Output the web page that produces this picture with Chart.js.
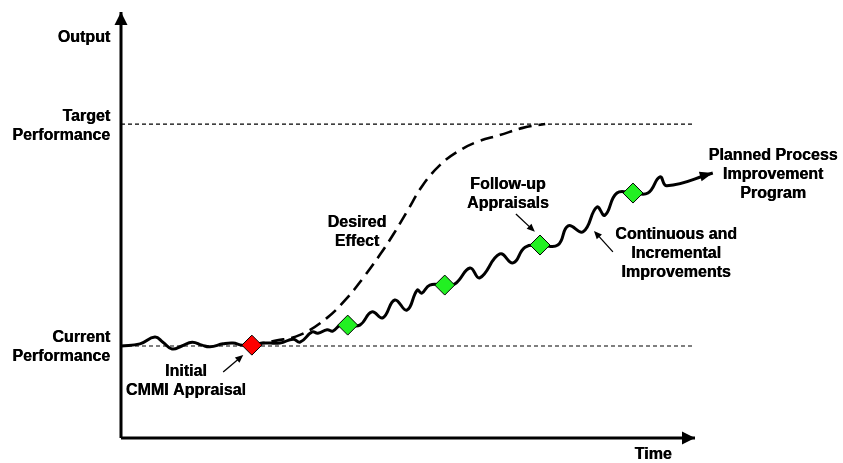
<!DOCTYPE html>
<html><head><meta charset="utf-8">
<script src="https://cdn.jsdelivr.net/npm/chart.js@4.4.1/dist/chart.umd.min.js"></script>
<style>html,body{margin:0;padding:0;background:#fff;overflow:hidden}canvas{display:block}</style>
</head><body>
<canvas id="c" width="843" height="463"></canvas>
<script>
// ---- Data (time 0-100, output 0-100) ----
const currentPerformance = 21.6;
const targetPerformance = 73.7;
const referenceTime = [0, 99.7];

const axisTime = [0, 100];
const axisOutput = [0, 100];

const actualTime = [0, 3.3, 5.9, 7.3, 8.9, 10.6, 12.4, 14.1, 15.5, 17.8, 19.5, 21.1, 22.8, 24.6, 27.7, 30.0, 31.2, 33.3, 34.3, 35.9, 36.9, 38.2, 39.6, 41.6, 43.7, 45.6, 47.7, 49.8, 51.6, 52.4, 53.8, 56.4, 58.2, 60.8, 62.5, 66.0, 68.3, 70.4, 73.0, 76.1, 77.9, 80.5, 82.9, 84.3, 86.4, 89.2, 91.8, 93.9, 95.1, 103.1];
const actualOutput = [21.6, 22.1, 23.7, 22.5, 20.9, 21.6, 22.5, 21.8, 21.4, 22.1, 22.3, 21.8, 21.8, 22.3, 22.3, 23.2, 22.5, 24.9, 24.6, 25.4, 25.1, 26.5, 26.5, 26.5, 29.6, 28.2, 32.4, 30.0, 34.7, 34.0, 35.9, 35.9, 36.2, 39.9, 37.6, 43.2, 41.1, 44.8, 45.3, 45.3, 49.8, 48.4, 54.2, 52.3, 57.5, 57.5, 57.5, 61.3, 59.2, 62.2];

const desiredTime = [22.8, 26.8, 31.2, 35.9, 39.4, 42.2, 45.1, 47.4, 49.8, 52.6, 55.6, 58.5, 62.0, 66.0, 70.0, 73.9];
const desiredOutput = [21.8, 22.8, 24.2, 28.2, 32.9, 37.6, 43.0, 47.7, 53.1, 59.4, 64.1, 67.1, 69.5, 71.1, 72.8, 73.7];

const appraisalTime = [22.8, 39.5, 56.4, 73.0, 89.2];
const appraisalOutput = [21.8, 26.5, 35.9, 45.3, 57.5];
const appraisalKind = ['initial', 'follow-up', 'follow-up', 'follow-up', 'follow-up'];

const labelTexts = [["Output"], ["Target", "Performance"], ["Current", "Performance"], ["Initial", "CMMI Appraisal"], ["Desired", "Effect"], ["Follow-up", "Appraisals"], ["Planned Process", "Improvement", "Program"], ["Continuous and", "Incremental", "Improvements"], ["Time"]];
const labelTime = [-1.9, -1.9, -1.9, 11.3, 41.1, 67.4, 113.6, 96.7, 92.7];
const labelOutput = [93.9, 75.4, 23.5, 15.5, 50.5, 59.4, 66.4, 47.7, -3.8];
const labelAlign = ['right', 'right', 'right', 'center', 'center', 'center', 'center', 'center', 'center'];

// pointer arrows: from (time, output) to (time, output)
const pointerFromTime = [17.8, 68.8, 85.7];
const pointerFromOutput = [15.5, 52.6, 43.7];
const pointerToTime = [21.3, 72.1, 82.4];
const pointerToOutput = [19.5, 48.4, 48.6];

// ---- Build datasets ----
const pts = (xs, ys) => xs.map((x, i) => ({x, y: ys[i]}));
const FONT = "bold 16px 'Liberation Sans', Arial, Helvetica, sans-serif";

function drawHead(ctx, x1, y1, x2, y2, len, half) {
  const a = Math.atan2(y2 - y1, x2 - x1);
  const c = Math.cos(a), s = Math.sin(a);
  ctx.beginPath();
  ctx.moveTo(x2, y2);
  ctx.lineTo(x2 - len * c + half * s, y2 - len * s - half * c);
  ctx.lineTo(x2 - len * c - half * s, y2 - len * s + half * c);
  ctx.closePath();
  ctx.fill();
}

const overlay = {
  id: 'overlay',
  afterDatasetsDraw(chart) {
    const ctx = chart.ctx, xs = chart.scales.x, ys = chart.scales.y;
    ctx.save();
    ctx.fillStyle = '#000';
    ctx.strokeStyle = '#000';
    chart.data.datasets.forEach(ds => {
      if (!ds.arrowHead) return;
      const d = ds.data, n = d.length;
      const x1 = xs.getPixelForValue(d[n - 2].x), y1 = ys.getPixelForValue(d[n - 2].y);
      const x2 = xs.getPixelForValue(d[n - 1].x), y2 = ys.getPixelForValue(d[n - 1].y);
      drawHead(ctx, x1, y1, x2, y2, ds.arrowHead[0], ds.arrowHead[1]);
    });
    ctx.lineWidth = 1.3;
    for (let i = 0; i < pointerFromTime.length; i++) {
      const x1 = xs.getPixelForValue(pointerFromTime[i]), y1 = ys.getPixelForValue(pointerFromOutput[i]);
      const x2 = xs.getPixelForValue(pointerToTime[i]), y2 = ys.getPixelForValue(pointerToOutput[i]);
      const a = Math.atan2(y2 - y1, x2 - x1);
      ctx.beginPath();
      ctx.moveTo(x1, y1);
      ctx.lineTo(x2 - 5 * Math.cos(a), y2 - 5 * Math.sin(a));
      ctx.stroke();
      drawHead(ctx, x1, y1, x2, y2, 8, 3.5);
    }
    ctx.font = FONT;
    ctx.textBaseline = 'middle';
    for (let i = 0; i < labelTexts.length; i++) {
      ctx.textAlign = labelAlign[i];
      const x = xs.getPixelForValue(labelTime[i]);
      const y0 = ys.getPixelForValue(labelOutput[i]);
      labelTexts[i].forEach((line, j) => {
        ctx.fillText(line, x, y0 + j * 19);
        ctx.fillText(line, x + 0.4, y0 + j * 19);
      });
    }
    ctx.restore();
  }
};

new Chart(document.getElementById('c'), {
  type: 'scatter',
  data: {
    datasets: [
      {
        label: 'Appraisals',
        data: pts(appraisalTime, appraisalOutput),
        showLine: false,
        pointStyle: 'rectRot',
        pointRadius: 10,
        pointHoverRadius: 10,
        pointBackgroundColor: appraisalKind.map(k => k === 'initial' ? '#ff0000' : '#22f022'),
        pointBorderColor: '#000',
        pointBorderWidth: 1,
        order: 0, clip: false
      },
      {
        label: 'Continuous and Incremental Improvements',
        data: pts(actualTime, actualOutput),
        showLine: true,
        borderColor: '#000',
        borderWidth: 3,
        pointRadius: 0,
        tension: 0.45,
        arrowHead: [13, 5],
        order: 1, clip: false
      },
      {
        label: 'Desired Effect',
        data: pts(desiredTime, desiredOutput),
        showLine: true,
        borderColor: '#000',
        borderWidth: 2.6,
        borderDash: [13, 7],
        pointRadius: 0,
        tension: 0.4,
        order: 2, clip: false
      },
      {
        label: 'Target Performance',
        data: pts(referenceTime, referenceTime.map(() => targetPerformance)),
        showLine: true, borderColor: '#000', borderWidth: 1.2, borderDash: [4, 3],
        pointRadius: 0, order: 3, clip: false
      },
      {
        label: 'Current Performance',
        data: pts(referenceTime, referenceTime.map(() => currentPerformance)),
        showLine: true, borderColor: '#000', borderWidth: 1.2, borderDash: [4, 3],
        pointRadius: 0, order: 3, clip: false
      },
      {
        label: 'Output axis',
        data: pts([0, 0], axisOutput),
        showLine: true, borderColor: '#000', borderWidth: 3, pointRadius: 0,
        arrowHead: [13, 6.5], order: 4, clip: false
      },
      {
        label: 'Time axis',
        data: pts(axisTime, [0, 0]),
        showLine: true, borderColor: '#000', borderWidth: 3, pointRadius: 0,
        arrowHead: [13, 6.5], order: 4, clip: false
      }
    ]
  },
  options: {
    responsive: false,
    animation: false,
    devicePixelRatio: 1,
    events: [],
    layout: { padding: { left: 121, right: 148, top: 12, bottom: 25 } },
    scales: {
      x: { type: 'linear', min: 0, max: 100, display: false },
      y: { type: 'linear', min: 0, max: 100, display: false }
    },
    plugins: { legend: { display: false }, tooltip: { enabled: false } }
  },
  plugins: [overlay]
});
</script>
</body></html>
